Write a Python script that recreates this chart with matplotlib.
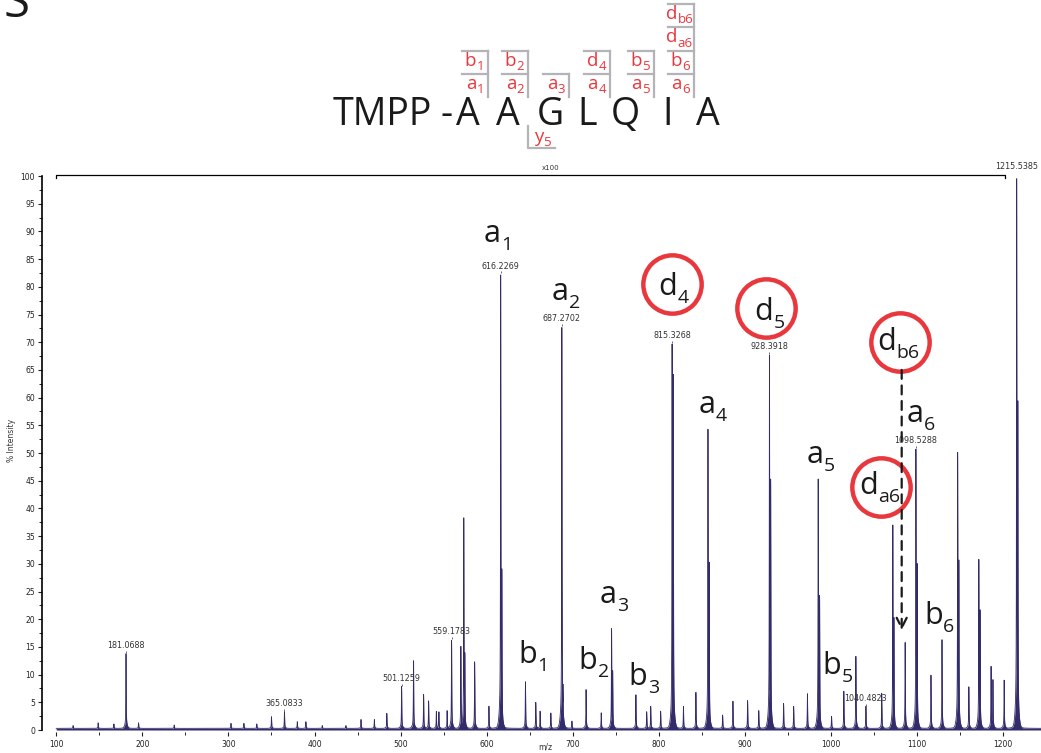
import numpy as np
import matplotlib.pyplot as plt

# peak list (m/z, % intensity)
peak_mz = [119.6, 148.7, 167, 181.07, 195.6, 237, 303, 318, 333, 350, 365.08, 380, 390, 409,
           436.5, 454, 469.5, 484, 501.13, 515, 526.7, 532.5, 541.5, 544.5, 554, 559.18, 570,
           573.4, 574.6, 586, 602.6, 616.23, 617.6, 645, 657, 662, 674.5, 687.27, 688.6, 699,
           715.4, 733, 745, 746.3, 773.3, 785.8, 790.5, 802, 815.33, 816.7, 828.5, 843, 857,
           858.4, 874, 886, 903, 916, 928.39, 929.8, 944.8, 956.5, 972.5, 985, 986.6, 1000.5,
           1014.8, 1028.8, 1040.48, 1058.8, 1071.7, 1073, 1086, 1098.53, 1099.9, 1116, 1128.8,
           1147, 1148.4, 1160, 1171.6, 1173, 1185.8, 1188, 1201, 1215.54, 1216.9]
peak_int = [0.5, 1.0, 0.8, 13.5, 1.0, 0.6, 0.9, 0.9, 0.8, 2.1, 3.0, 1.2, 1.2, 0.5,
            0.5, 1.6, 1.6, 2.7, 7.6, 12.2, 6.2, 5.0, 3.1, 3.0, 3.2, 16.0, 14.8,
            38.0, 13.7, 12.0, 4.0, 82.0, 28.8, 8.4, 4.7, 3.1, 2.8, 72.5, 8.0, 1.3,
            7.0, 2.8, 18.0, 10.5, 6.1, 3.0, 4.0, 3.1, 69.5, 64.4, 4.0, 6.5, 54.0,
            30.0, 2.4, 4.9, 5.0, 3.2, 67.5, 45.0, 4.5, 4.0, 6.3, 45.0, 24.0, 2.2,
            6.7, 13.0, 4.0, 6.3, 37.0, 20.0, 15.5, 50.5, 30.0, 9.6, 16.0,
            49.8, 30.4, 7.5, 30.5, 21.4, 11.2, 8.8, 8.7, 100.0, 59.6]

# labelled peaks
label_mz = [181.0688, 365.0833, 501.1259, 559.1783, 616.2269, 687.2702, 815.3268,
            928.3918, 1040.4823, 1098.5288, 1215.5385]
label_int = [13.5, 3.0, 7.6, 16.0, 82.0, 72.5, 69.5, 67.5, 4.0, 50.5, 100.0]

# fragment ion annotations: letter, subscript, m/z and intensity of the letter/subscript join
ion_main = ['a', 'a', 'a', 'a', 'a', 'a', 'b', 'b', 'b', 'b', 'b']
ion_sub = ['1', '2', '3', '4', '5', '6', '1', '2', '3', '5', '6']
ion_mz = [616.6, 695.5, 750.8, 865.7, 991.5, 1107.8, 658.6, 728.6, 786.9, 1012.1, 1129.9]
ion_int = [88.1, 77.6, 22.9, 57.2, 48.2, 55.6, 12.1, 11.0, 8.1, 10.1, 19.1]

circ_sub = ['4', '5', 'b6', 'a6']
circ_mz = [814.8, 924.4, 1080.4, 1058.2]
circ_int = [80.5, 76.2, 70.0, 43.9]
circ_lab_mz = [820.7, 932.6, 1075.0, 1054.5]
circ_lab_int = [78.5, 74.0, 68.6, 42.6]

navy = '#322c6a'
red = '#e8383d'
grey = '#b4b4b8'
ink = '#1a1a1a'


def sub_label(a, x, y, main, sub, fs, sfs, drop, color):
    a.annotate(main, (x, y), xytext=(0, 0), textcoords='offset points', ha='right',
               va='baseline', fontsize=fs, family='Open Sans', color=color,
               annotation_clip=False)
    a.annotate(sub, (x, y), xytext=(0.3, -drop), textcoords='offset points', ha='left',
               va='baseline', fontsize=sfs, family='Open Sans', color=color,
               annotation_clip=False)


fig = plt.figure(figsize=(10.41, 7.53), dpi=100)
W, H = 1041, 753
ax = fig.add_axes([42 / W, (H - 732) / H, (W - 42) / W, (732 - 176) / H])

# profile: each stick drawn with a sharp line shape, the envelope is the max
x = np.arange(100, 1250, 0.04)
y = np.full_like(x, 0.3)
g = 0.22
for m, h in zip(peak_mz, peak_int):
    shape = 0.96 * g**2 / ((x - m)**2 + g**2) + 0.04 * np.exp(-0.5 * ((x - m) / 1.6)**2)
    y = np.maximum(y, h * shape + 0.3)
ax.fill_between(x, 0, y, color=navy, lw=0)
ax.plot(x, y, color=navy, lw=0.6)

ax.set_xlim(83.5, 1243.8)
ax.set_ylim(-0.36, 100)
for s in ['top', 'right', 'bottom']:
    ax.spines[s].set_visible(False)
ax.spines['left'].set_linewidth(1.2)
ax.spines['left'].set_bounds(0, 100)
ax.set_xticks(np.arange(100, 1201, 100))
ax.set_xticks(np.arange(150, 1201, 100), minor=True)
ax.set_yticks(np.arange(0, 101, 5))
ax.set_yticks(np.arange(2.5, 100, 5), minor=True)
ax.tick_params(labelsize=5.5, length=3, width=0.8, pad=2, colors='#222222')
ax.tick_params(which='minor', length=2, width=0.6)
ax.tick_params(axis='x', pad=3)

# peak value labels
for m, h in zip(label_mz, label_int):
    ax.text(m, h + 0.9, f'{m:.4f}', fontsize=5.8, ha='center', va='bottom', color='#333333')
    ax.plot([m], [h + 0.6], marker='|', ms=2, color='#555555', mew=0.6)

# x100 bracket
ax.plot([99.7, 99.7, 1202.4, 1202.4], [99.7, 100.2, 100.2, 99.7], color='black', lw=0.9,
        clip_on=False)
ax.text(673.7, 100.9, 'x100', fontsize=5, ha='center', va='bottom', color='#333333')

# ion labels
for mn, sb, m, h in zip(ion_main, ion_sub, ion_mz, ion_int):
    sub_label(ax, m, h, mn, sb, 22, 14, 5.5, ink)
for sb, m, h, lm, lh in zip(circ_sub, circ_mz, circ_int, circ_lab_mz, circ_lab_int):
    ax.plot([m], [h], marker='o', ms=42, mfc='none', mec=red, mew=3.2, clip_on=False)
    sub_label(ax, lm, lh, 'd', sb, 22, 14, 5.5, ink)

ax.annotate('', xy=(1082, 17.5), xytext=(1082, 65.5),
            arrowprops=dict(arrowstyle='->', lw=1.6, ls=(0, (4, 3)), color=ink,
                            mutation_scale=18))

fig.text(12 / W, 1 - 440 / H, '% Intensity', rotation=90, fontsize=5.5, ha='center',
         va='center', color='#333333')
fig.text(545 / W, 1 - 747 / H, 'm/z', fontsize=5.5, ha='center', va='center', color='#333333')

# header: sequence with fragment brackets, in pixel coordinates
hx = fig.add_axes([0, 0, 1, 1], zorder=5)
hx.set_xlim(0, W)
hx.set_ylim(H, 0)
hx.axis('off')

hx.text(30, 17, 'S', fontsize=34, family='Open Sans', ha='right', va='baseline', color=ink)

seq = ['TMPP', '-', 'A', 'A', 'G', 'L', 'Q', 'I', 'A']
seq_x = [382, 447, 468, 508, 550, 587, 625, 668, 708]
for c, px in zip(seq, seq_x):
    hx.text(px, 125, c, fontsize=27, family='Open Sans', ha='center', va='baseline', color=ink)

# cleavage sites: x of bracket, labels from bottom up
cuts_x = [488.3, 528.3, 569.3, 610, 654, 694]
cuts_lab = [[('a', '1'), ('b', '1')], [('a', '2'), ('b', '2')], [('a', '3')],
            [('a', '4'), ('d', '4')], [('a', '5'), ('b', '5')],
            [('a', '6'), ('b', '6'), ('d', 'a6'), ('d', 'b6')]]
levels = [73.7, 50.7, 27.3, 4]
for cx, labs in zip(cuts_x, cuts_lab):
    top = levels[len(labs) - 1]
    hx.plot([cx, cx], [top, 96.7], color=grey, lw=1.6)
    for (mn, sb), ly in zip(labs, levels):
        hx.plot([cx - 26, cx], [ly, ly], color=grey, lw=1.6)
        bx = cx - 12 - 5 * (len(sb) - 1)
        sub_label(hx, bx, ly + 15, mn, sb, 13.5, 9.5, 3.2, red)
hx.plot([528.3, 528.3, 555], [126, 147.7, 147.7], color=grey, lw=1.6)
sub_label(hx, 543, 141.5, 'y', '5', 13.5, 9.5, 3.2, red)

fig.savefig('out.png', dpi=100)
